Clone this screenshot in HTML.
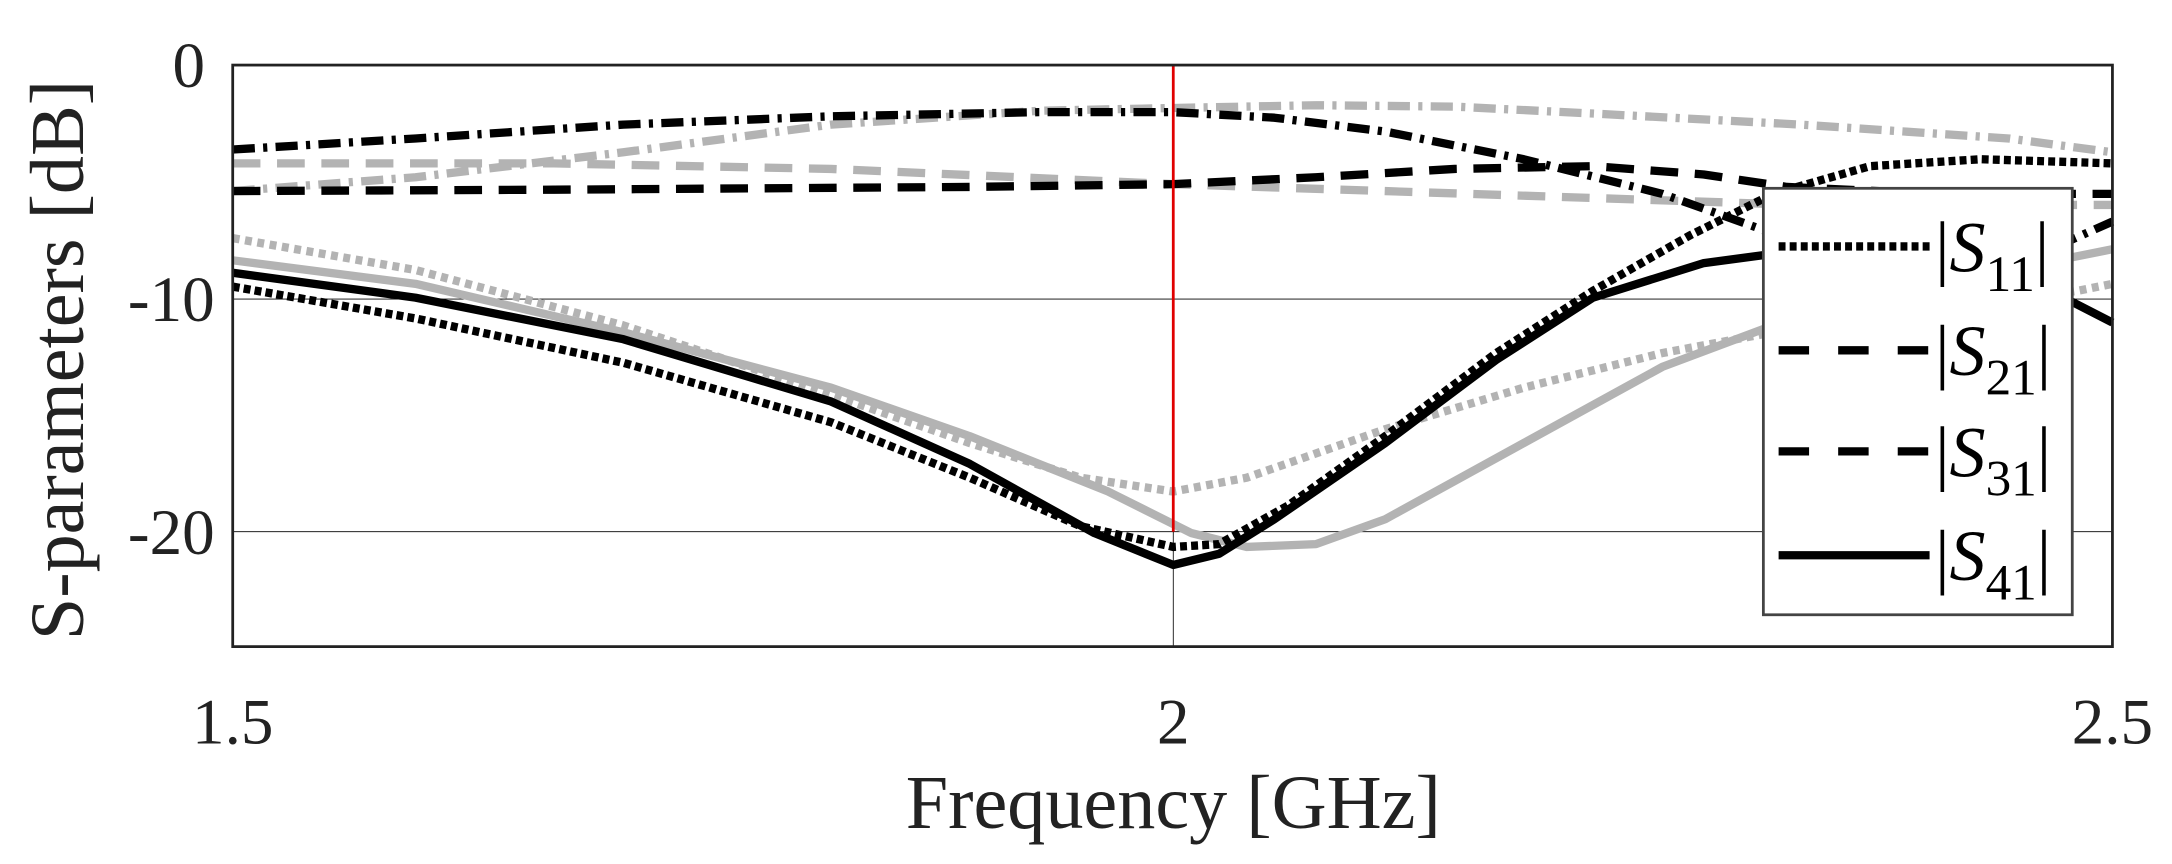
<!DOCTYPE html>
<html><head><style>html,body{margin:0;padding:0;background:#fff}svg{display:block}</style></head>
<body>
<svg width="2172" height="864" viewBox="0 0 1568 624" preserveAspectRatio="none" xmlns="http://www.w3.org/2000/svg" font-family="Liberation Serif, serif">
<rect x="0" y="0" width="1568" height="624" fill="#fff"/>
<line x1="168" y1="216" x2="1525" y2="216" stroke="#000" stroke-width="0.6"/>
<line x1="168" y1="384" x2="1525" y2="384" stroke="#000" stroke-width="0.6"/>
<line x1="847" y1="384" x2="847" y2="467" stroke="#000" stroke-width="0.6"/>
<g fill="none" stroke-width="6" stroke-linejoin="round">
<polyline stroke="#b3b3b3" stroke-dasharray="16 6 3 6" points="168,138 300,128 450,110 600,90 750,80 847,78 950,76 1050,77 1150,82 1300,90 1450,100 1525,110"/>
<polyline stroke="#b3b3b3" stroke-dasharray="20 12" points="168,118 400,118 600,122 847,133 1000,138 1150,143 1300,148 1525,148"/>
<polyline stroke="#b3b3b3" stroke-dasharray="5 4" points="168,172 300,195 450,235 600,285 700,320 780,345 847,355 900,345 1000,310 1100,280 1200,255 1280,240 1500,210 1525,205"/>
<polyline stroke="#b3b3b3" points="168,188 300,205 450,240 600,280 700,315 800,355 860,385 900,395 950,393 1000,375 1100,320 1200,265 1280,235 1400,205 1525,180"/>
<polyline stroke="#000" stroke-dasharray="16 6 3 6" points="168,108 300,100 450,90 600,84 750,81 847,81 920,85 1000,95 1100,115 1200,140 1270,165 1320,185 1400,195 1480,180 1525,160"/>
<polyline stroke="#000" stroke-dasharray="20 12" points="168,138 400,137 700,135 847,133 950,128 1050,122 1150,120 1230,126 1290,135 1400,140 1525,140"/>
<polyline stroke="#000" stroke-dasharray="5 3" points="168,207 300,230 450,262 600,305 700,345 780,380 847,395 880,393 930,365 1000,315 1080,255 1150,210 1220,170 1280,140 1350,120 1430,115 1525,118"/>
<polyline stroke="#000" points="168,197 300,215 450,245 600,290 700,335 790,385 847,408 880,400 920,375 1000,320 1080,260 1150,215 1230,190 1290,182 1400,195 1490,215 1525,233"/>
</g>
<line x1="847" y1="47" x2="847" y2="384" stroke="#e00000" stroke-width="2"/>
<rect x="168" y="47" width="1357" height="420" fill="none" stroke="#222" stroke-width="2"/>
<rect x="1273" y="136" width="223" height="308" fill="#fff" stroke="#444" stroke-width="2"/>
<g stroke="#000" stroke-width="6">
<line x1="1284" y1="178" x2="1393" y2="178" stroke-dasharray="5 3"/>
<line x1="1284" y1="253" x2="1393" y2="253" stroke-dasharray="22 21"/>
<line x1="1284" y1="326" x2="1393" y2="326" stroke-dasharray="22 21"/>
<line x1="1284" y1="401" x2="1393" y2="401"/>
</g>
<g font-size="52" fill="#000">
<text x="1397" y="196">|<tspan font-style="italic">S</tspan><tspan font-size="37" dy="14">11</tspan><tspan dy="-14">|</tspan></text>
<text x="1397" y="271">|<tspan font-style="italic">S</tspan><tspan font-size="37" dy="14">21</tspan><tspan dy="-14">|</tspan></text>
<text x="1397" y="344">|<tspan font-style="italic">S</tspan><tspan font-size="37" dy="14">31</tspan><tspan dy="-14">|</tspan></text>
<text x="1397" y="419">|<tspan font-style="italic">S</tspan><tspan font-size="37" dy="14">41</tspan><tspan dy="-14">|</tspan></text>
</g>
<g font-size="47" fill="#222" text-anchor="end">
<text x="148" y="63">0</text>
<text x="155" y="232">-10</text>
<text x="155" y="400">-20</text>
</g>
<g font-size="47" fill="#222" text-anchor="middle">
<text x="168" y="537">1.5</text>
<text x="847" y="537">2</text>
<text x="1525" y="537">2.5</text>
<text x="847" y="598" font-size="55">Frequency [GHz]</text>
<text transform="translate(60,260) rotate(-90)" font-size="55">S-parameters [dB]</text>
</g>
</svg>
</body></html>
